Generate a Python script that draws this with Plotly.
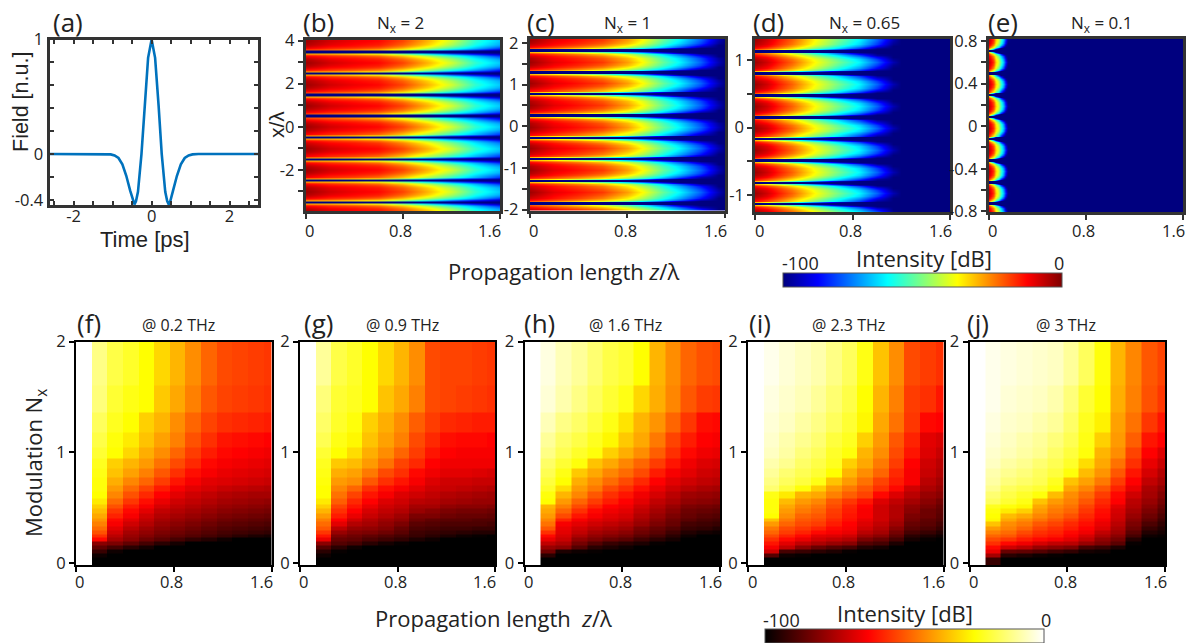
import plotly.graph_objects as go

W, H = 1187, 643
TICK_FONT = "Open Sans"

# ---------- panel (a) ----------
pulse_t = [-2.7,-1.2,-1.05,-.95,-.85,-.75,-.65,-.55,-.48,-.44,-.40,-.35,-.26,-.18,-.09,0,.09,.18,.26,.35,.40,.44,.48,.55,.65,.75,.85,.95,1.05,1.2,2.75]
pulse_v = [0,0,-.003,-.012,-.035,-.09,-.19,-.32,-.41,-.44,-.41,-.33,0,.42,.84,1,.84,.42,0,-.33,-.41,-.44,-.41,-.32,-.19,-.09,-.035,-.012,-.003,0,0]

# ---------- panels (b)-(e): one fringe read across its half width, by propagation length (dB) ----------
lobe_u = [0,.3,.5,.7,.8,.86,.9,1]
b_z = [0,.2,.4,.6,.8,1.0,1.2,1.4,1.6]
b_lobe = [
 [-3,-8,-11,-13,-19,-30,-42,-58,-68],
 [-5,-10,-13,-15,-22,-33,-46,-61,-71],
 [-8,-13,-15,-18,-26,-38,-51,-65,-76],
 [-13,-17,-20,-24,-33,-46,-59,-71,-84],
 [-20,-23,-27,-31,-42,-55,-68,-81,-92],
 [-30,-32,-35,-40,-52,-66,-80,-89,-96],
 [-99,-99,-99,-99,-99,-99,-99,-99,-99],
 [-100,-100,-100,-100,-100,-100,-100,-100,-100]]
c_z = [0,.2,.4,.6,.8,.93,1.1,1.23,1.4,1.55,1.6]
c_lobe = [
 [-3,-10,-14,-18,-28,-38,-53,-63,-78,-95,-100],
 [-5,-12,-16,-21,-31,-41,-56,-66,-81,-97,-100],
 [-8,-14,-19,-25,-36,-46,-60,-71,-86,-100,-100],
 [-13,-19,-25,-32,-43,-53,-67,-79,-95,-100,-100],
 [-20,-26,-33,-41,-54,-64,-80,-93,-100,-100,-100],
 [-30,-36,-44,-53,-67,-78,-93,-100,-100,-100,-100],
 [-99,-99,-99,-99,-99,-99,-100,-100,-100,-100,-100],
 [-100,-100,-100,-100,-100,-100,-100,-100,-100,-100,-100]]
d_z = [0,.1,.2,.3,.4,.5,.6,.7,.85,1.0,1.13,1.2,1.6]
d_lobe = [
 [-3,-8,-15,-22,-30,-38,-45,-52,-63,-78,-95,-100,-100],
 [-5,-10,-17,-24,-32,-40,-47,-55,-66,-82,-98,-100,-100],
 [-8,-13,-20,-28,-36,-44,-52,-60,-72,-88,-100,-100,-100],
 [-13,-19,-26,-34,-42,-51,-59,-67,-81,-97,-100,-100,-100],
 [-20,-26,-34,-43,-52,-61,-69,-79,-94,-100,-100,-100,-100],
 [-30,-37,-46,-55,-65,-75,-85,-95,-100,-100,-100,-100,-100],
 [-99,-99,-99,-99,-99,-99,-100,-100,-100,-100,-100,-100,-100],
 [-100,-100,-100,-100,-100,-100,-100,-100,-100,-100,-100,-100,-100]]
e_z = [0,.02,.04,.06,.08,.1,.12,.14,.16,.18,1.6]
e_lobe = [
 [-5,-10,-18,-32,-42,-55,-70,-85,-98,-100,-100],
 [-7,-12,-21,-35,-45,-58,-74,-90,-100,-100,-100],
 [-10,-16,-27,-40,-52,-66,-82,-97,-100,-100,-100],
 [-15,-25,-38,-51,-65,-81,-97,-100,-100,-100,-100],
 [-22,-36,-51,-69,-88,-100,-100,-100,-100,-100,-100],
 [-30,-50,-72,-95,-100,-100,-100,-100,-100,-100,-100],
 [-99,-99,-100,-100,-100,-100,-100,-100,-100,-100,-100],
 [-100,-100,-100,-100,-100,-100,-100,-100,-100,-100,-100]]
b_dips = [4.5,3.47,2.49,1.47,.51,-.49,-1.51,-2.48,-3.5,-4.5]
c_dips = [2.34,1.82,1.29,.78,.26,-.28,-.78,-1.31,-1.85,-2.37]
d_dips = [1.445,1.125,.806,.472,.152,-.167,-.487,-.816,-1.125,-1.445]
e_dips = [.915,.71,.497,.294,.09,-.119,-.322,-.525,-.722,-.925]

# ---------- panels (f)-(j): level above -100 dB ----------
cell_x = [0,.128,.256,.384,.512,.64,.768,.896,1.024,1.152,1.28,1.408,1.536,1.6]
cell_y = [2.0,1.6,1.36,1.18,1.04,.94,.85,.77,.70,.64,.58,.53,.49,.45,.40,.37,.33,.29,.26,.23,.195,.16,.12,.08,.045,-.02]
f_cells = [
 [100,88,82,79,75,69,64,58,52,48,47,46,45],
 [100,87,80,77,75,67,62,56,50,47,46,45,44],
 [100,84,78,75,68,64,58,52,47,44,43,42,41],
 [100,82,76,72,66,61,56,49,44,40,39,38,37],
 [100,80,75,69,63,58,52,46,41,38,37,36,35],
 [100,78,68,64,60,54,48,43,38,36,35,34,33],
 [100,77,66,61,56,50,44,39,36,34,33,32,31],
 [100,76,63,57,52,46,40,36,33,32,31,30,29],
 [100,76,60,53,47,41,36,33,31,29,28,27,26],
 [100,75,57,49,43,37,33,30,28,26,25,24,24],
 [100,72,53,45,39,34,30,28,26,24,23,22,21],
 [100,68,49,41,36,31,28,26,24,22,21,20,19],
 [100,65,45,38,33,28,26,24,22,20,19,18,17],
 [100,62,42,36,30,26,24,22,20,18,17,16,15],
 [100,59,38,33,28,24,22,20,18,16,15,14,13],
 [100,56,36,30,26,22,20,18,16,14,13,12,11],
 [100,53,33,27,23,20,18,16,14,12,11,10,9],
 [100,49,30,24,21,18,16,14,12,10,9,8,7],
 [100,44,27,22,19,16,14,12,10,8,6,4,3],
 [100,38,24,20,16,13,10,7,5,2,0,0,0],
 [100,20,18,14,10,6,3,0,0,0,0,0,0],
 [100,14,10,6,3,0,0,0,0,0,0,0,0],
 [100,8,2,0,0,0,0,0,0,0,0,0,0],
 [100,2,0,0,0,0,0,0,0,0,0,0,0],
 [100,0,0,0,0,0,0,0,0,0,0,0,0]]
g_cells = [
 [100,90,82,79,75,69,64,58,48,47,47,46,45],
 [100,87,80,78,75,66,62,56,48,47,46,45,44],
 [100,85,79,76,68,63,58,51,46,43,42,41,41],
 [100,83,77,74,66,61,56,48,43,39,38,38,37],
 [100,80,75,70,63,58,52,46,40,37,36,36,36],
 [100,78,67,65,60,54,47,43,37,35,35,35,35],
 [100,77,63,61,55,48,44,38,35,33,33,32,31],
 [100,76,60,58,50,44,40,36,32,30,30,29,29],
 [100,75,57,52,44,39,36,33,30,29,28,27,26],
 [100,75,54,47,40,36,32,30,28,26,25,24,23],
 [100,72,51,43,37,32,30,27,26,24,23,22,22],
 [100,68,47,40,34,30,28,24,24,21,20,20,19],
 [100,64,44,37,31,28,26,22,20,18,17,17,16],
 [100,60,41,34,29,26,23,18,18,16,15,15,14],
 [100,56,37,30,26,23,21,16,14,13,13,12,12],
 [100,53,33,26,24,21,18,13,12,11,11,11,10],
 [100,50,27,22,21,19,15,11,10,9,9,8,8],
 [100,45,22,19,18,16,13,9,8,7,6,5,5],
 [100,40,18,16,14,12,10,8,6,4,2,1,0],
 [100,34,15,14,11,9,7,4,2,0,0,0,0],
 [100,20,12,10,6,3,1,0,0,0,0,0,0],
 [100,12,6,2,0,0,0,0,0,0,0,0,0],
 [100,6,1,0,0,0,0,0,0,0,0,0,0],
 [100,2,0,0,0,0,0,0,0,0,0,0,0],
 [100,0,0,0,0,0,0,0,0,0,0,0,0]]
h_cells = [
 [100,97,93,90,86,82,80,75,64,58,52,49,48],
 [100,96,92,88,84,80,77,69,63,57,50,46,45],
 [100,93,88,85,81,77,71,64,59,52,45,39,38],
 [100,90,85,82,78,74,67,62,55,47,41,37,36],
 [100,88,83,79,76,68,63,58,51,44,38,35,34],
 [100,85,80,76,66,62,57,52,46,40,35,32,31],
 [100,83,77,67,62,57,53,48,41,36,33,30,29],
 [100,81,75,63,58,53,48,43,37,33,30,28,27],
 [100,79,70,60,55,48,44,39,34,30,27,25,24],
 [100,76,64,57,50,44,40,35,31,27,23,22,21],
 [100,75,60,52,46,41,37,33,28,25,21,20,19],
 [100,64,56,48,42,37,35,30,26,22,18,17,16],
 [100,62,52,44,38,35,33,28,24,20,16,15,14],
 [100,60,48,40,36,33,31,26,22,18,15,13,12],
 [100,57,42,36,33,31,29,24,20,16,13,11,10],
 [100,54,36,33,30,28,26,22,18,15,10,9,8],
 [100,50,34,30,27,25,23,18,15,12,8,7,5],
 [100,44,33,28,24,22,20,16,13,9,5,3,2],
 [100,38,31,25,21,19,17,13,10,6,2,0,0],
 [100,34,29,21,18,15,13,9,6,3,0,0,0],
 [100,28,25,17,12,8,6,4,1,0,0,0,0],
 [100,22,20,12,6,4,2,0,0,0,0,0,0],
 [100,16,4,2,1,0,0,0,0,0,0,0,0],
 [100,6,0,0,0,0,0,0,0,0,0,0,0],
 [100,0,0,0,0,0,0,0,0,0,0,0,0]]
i_cells = [
 [100,98,96,94,92,88,84,77,66,58,48,46,44],
 [100,97,95,93,90,86,82,75,64,56,46,44,40],
 [100,96,94,91,88,84,80,74,62,54,45,38,37],
 [100,95,92,89,86,81,78,68,60,50,42,33,31],
 [100,94,91,87,84,79,76,64,58,48,40,32,29],
 [100,92,89,85,82,78,68,62,55,46,37,30,27],
 [100,90,86,83,80,75,64,58,52,43,36,29,26],
 [100,88,84,81,77,66,60,54,47,41,36,27,24],
 [100,86,81,76,68,60,55,50,44,38,30,25,22],
 [100,77,72,64,62,56,51,47,38,32,27,22,20],
 [100,76,65,60,57,50,45,40,32,28,24,20,17],
 [100,76,62,57,54,48,42,37,30,26,21,18,15],
 [100,76,60,55,52,46,41,36,30,26,20,16,14],
 [100,75,58,52,50,45,40,36,30,26,18,16,13],
 [100,66,55,50,48,43,39,34,30,25,17,14,12],
 [100,60,52,48,46,41,37,32,28,23,15,13,10],
 [100,55,48,45,42,38,36,30,26,20,13,11,8],
 [100,52,46,42,38,36,34,27,24,17,10,8,5],
 [100,48,42,38,33,32,30,23,20,14,6,4,2],
 [100,44,38,34,30,28,26,18,15,10,3,1,0],
 [100,40,33,28,25,22,20,12,10,4,0,0,0],
 [100,36,28,20,15,12,10,5,3,0,0,0,0],
 [100,30,10,8,6,4,1,0,0,0,0,0,0],
 [100,12,2,1,0,0,0,0,0,0,0,0,0],
 [100,0,0,0,0,0,0,0,0,0,0,0,0]]
j_cells = [
 [100,98,97,96,95,94,90,84,76,64,57,50,47],
 [100,98,96,95,94,92,87,80,75,63,56,49,45],
 [100,97,95,94,92,90,85,78,73,61,54,45,40],
 [100,96,94,92,90,87,83,77,68,60,51,40,37],
 [100,95,93,91,89,85,81,76,64,58,47,37,32],
 [100,94,91,89,86,83,79,70,62,54,44,34,29],
 [100,92,89,87,84,81,76,65,59,50,40,31,26],
 [100,91,87,85,83,78,66,61,55,46,37,28,24],
 [100,89,84,82,80,76,62,57,50,42,34,25,21],
 [100,86,82,79,76,65,58,53,46,38,30,24,19],
 [100,84,80,77,66,60,56,50,43,37,27,22,17],
 [100,78,76,74,62,57,54,47,41,33,26,20,15],
 [100,76,72,68,60,55,52,45,39,31,24,18,13],
 [100,75,65,62,57,53,49,43,38,30,22,16,11],
 [100,74,62,58,54,50,46,41,36,29,20,14,9],
 [100,66,58,55,50,47,43,39,34,27,18,11,7],
 [100,60,56,52,47,44,41,37,32,25,16,8,5],
 [100,56,53,48,44,42,38,35,28,23,13,5,3],
 [100,52,50,45,42,40,36,31,25,20,10,2,1],
 [100,48,45,41,38,36,33,28,21,17,5,0,0],
 [100,44,38,35,31,28,27,22,18,13,1,0,0],
 [100,38,30,27,22,20,18,10,8,4,0,0,0],
 [100,34,15,14,12,9,7,3,2,0,0,0,0],
 [100,24,6,4,2,1,0,0,0,0,0,0,0],
 [100,8,0,0,0,0,0,0,0,0,0,0,0]]

# x tick labels of panels (b)-(j) and the sideways nudge they carry in the figure
z_ticks = [0, .8, 1.6]
z_tick_text = ["0", "0.8", "1.6"]
z_tick_nudge = [4, -2, -10]

JET = [[0,"#00007f"],[.125,"#0000ff"],[.375,"#00ffff"],[.625,"#ffff00"],[.875,"#ff0000"],[1,"#7f0000"]]
HOT = [[0,"#000000"],[.37,"#ff0000"],[.75,"#ffff00"],[1,"#ffffff"]]

fig = go.Figure()
layout = {}
notes = []

def dom(x0, x1, y0, y1):
    return [x0 / W, x1 / W], [1 - y1 / H, 1 - y0 / H]

def add_axes(n, box, xr, yr, xv, xt, yv, yt, color, lw, ticks="outside", mirror=True, tl=5, standoff=0, xlabels=True):
    dx, dy = dom(*box)
    font = dict(family=TICK_FONT, size=16.5, color="#222")
    layout[f"xaxis{n}"] = dict(domain=dx, range=xr, anchor=f"y{n}", tickmode="array", tickvals=xv, ticktext=xt,
                               ticks=ticks, ticklen=tl, tickwidth=2, tickcolor=color, showline=True, linecolor=color,
                               linewidth=lw, mirror=mirror, showgrid=False, zeroline=False, tickfont=font, tickangle=0,
                               ticklabelstandoff=standoff, showticklabels=xlabels)
    layout[f"yaxis{n}"] = dict(domain=dy, range=yr, anchor=f"x{n}", tickmode="array", tickvals=yv, ticktext=yt,
                               ticks=ticks, ticklen=tl, tickwidth=2, tickcolor=color, showline=True, linecolor=color,
                               linewidth=lw, mirror=mirror, showgrid=False, zeroline=False, tickfont=font,
                               ticklabeloverflow="allow")

def z_labels(n, py):
    for v, t, s in zip(z_ticks, z_tick_text, z_tick_nudge):
        notes.append(dict(x=v, xref=f"x{n}", xshift=s, y=1 - py / H, yref="paper", text=t, showarrow=False,
                          xanchor="center", yanchor="middle", font=dict(family=TICK_FONT, size=16.5, color="#222")))

def fringes(dips, table):
    ys, zs = [], []
    for top, bottom in zip(dips[:-1], dips[1:]):
        mid, half = (top + bottom) / 2, (top - bottom) / 2
        for u, row in zip(lobe_u[::-1], table[::-1]):
            ys.append(mid - u * half); zs.append(row)
        for u, row in zip(lobe_u[1:], table[1:]):
            ys.append(mid + u * half); zs.append(row)
    order = sorted(range(len(ys)), key=lambda i: ys[i])
    return [ys[i] for i in order], [zs[i] for i in order]

# panel (a)
fig.add_trace(go.Scatter(x=pulse_t, y=pulse_v, mode="lines", line=dict(color="#0072BD", width=2.6), xaxis="x", yaxis="y", showlegend=False))
add_axes("", (49.5, 258, 39.5, 205), [-2.62, 2.73], [-.445, 1.0],
         [-2.5,-2,-1.5,-1,-.5,0,.5,1,1.5,2,2.5], ["", "-2", "", "", "", "0", "", "", "", "2", ""],
         [-.4,-.2,0,.2,.4,.6,.8,1], ["-0.4", "", "0", "", "", "", "", "1"], "#333", 3, ticks="inside", mirror="ticks", tl=4, standoff=-6)

# panels (b)-(e)
top_panels = [
 (2, (305.5, 500, 39.5, 211), b_z, b_lobe, b_dips, [-3.91, 4.05], [-3,-2,-1,0,1,2,3,4], ["", "-2", "", "0", "", "2", "", "4"]),
 (3, (529.5, 725, 39, 210.5), c_z, c_lobe, c_dips, [-2.024, 2.096], [-2,-1.5,-1,-.5,0,.5,1,1.5,2], ["-2", "", "-1", "", "0", "", "1", "", "2"]),
 (4, (755, 950, 39, 212), d_z, d_lobe, d_dips, [-1.248, 1.307], [-1,-.5,0,.5,1], ["-1", "", "0", "", "1"]),
 (5, (988.5, 1183, 39, 212), e_z, e_lobe, e_dips, [-.806, .819], [-.8,-.6,-.4,-.2,0,.2,.4,.6,.8], ["-0.8", "", "-0.4", "", "0", "", "0.4", "", "0.8"]),
]
for n, box, zs, table, dips, yr, yv, yt in top_panels:
    ys, rows = fringes(dips, table)
    fig.add_trace(go.Heatmap(x=zs, y=ys, z=rows, zmin=-100, zmax=0, colorscale=JET, zsmooth="best",
                             xaxis=f"x{n}", yaxis=f"y{n}", hoverinfo="skip",
                             showscale=(n == 5),
                             colorbar=dict(orientation="h", x=782.5/W, xanchor="left", y=1-272.7/H, yanchor="top",
                                           lenmode="pixels", len=279, thicknessmode="pixels", thickness=14,
                                           xpad=0, ypad=0, outlinecolor="#555", outlinewidth=1, showticklabels=False, ticks="")))
    add_axes(n, box, [0, 1.6], yr, z_ticks, z_tick_text, yv, yt, "#333", 2.5, tl=5, xlabels=False)
    z_labels(n, 230)

# panels (f)-(j)
bottom_panels = [
 (6, 76, 271.5, f_cells), (7, 300, 495, g_cells), (8, 524.5, 720, h_cells), (9, 748, 943.5, i_cells), (10, 969.5, 1165, j_cells)]
for n, x0, x1, cells in bottom_panels:
    z = [[v - 100 for v in row] for row in cells[::-1]]
    fig.add_trace(go.Heatmap(x=cell_x, y=cell_y[::-1], z=z, zmin=-100, zmax=0, colorscale=HOT,
                             xaxis=f"x{n}", yaxis=f"y{n}", hoverinfo="skip",
                             showscale=(n == 10),
                             colorbar=dict(orientation="h", x=765/W, xanchor="left", y=1-629/H, yanchor="top",
                                           lenmode="pixels", len=279, thicknessmode="pixels", thickness=14,
                                           xpad=0, ypad=0, outlinecolor="#555", outlinewidth=1, showticklabels=False, ticks="")))
    add_axes(n, (x0, x1, 341.5, 565), [0, 1.6], [-.02, 2.0], z_ticks, z_tick_text, [0, 1, 2], ["0", "1", "2"], "#000", 2, tl=5, xlabels=False)
    z_labels(n, 581.5)

# text
def note(px, py, text, size, family="Open Sans", angle=0, color="#222"):
    notes.append(dict(x=px / W, y=1 - py / H, xref="paper", yref="paper", text=text, showarrow=False,
                      xanchor="center", yanchor="middle", textangle=angle, font=dict(family=family, size=size, color=color)))

for lab, px, py in [("(a)",68,22),("(b)",318,22),("(c)",541,22),("(d)",768,22),("(e)",1003,22),
                    ("(f)",89,323),("(g)",318,323),("(h)",539,323),("(i)",760,323),("(j)",978,323)]:
    note(px, py, lab, 26)
for txt, px in [("N<sub>x</sub> = 2",400),("N<sub>x</sub> = 1",627),("N<sub>x</sub> = 0.65",864),("N<sub>x</sub> = 0.1",1102)]:
    note(px, 23, txt, 17)
for txt, px in [("@ 0.2 THz",178),("@ 0.9 THz",402),("@ 1.6 THz",625),("@ 2.3 THz",848),("@ 3 THz",1066)]:
    note(px, 325, txt, 16)
note(563, 271, "Propagation length <i>z</i>/λ", 22)
note(493, 618, "Propagation length  <i>z</i>/λ", 22)
note(924, 258, "Intensity [dB]", 22)
note(905, 613, "Intensity [dB]", 22)
note(800, 263, "-100", 18); note(1059, 263, "0", 18)
note(781, 620, "-100", 18); note(1046, 620, "0", 18)
note(35, 463, "Modulation N<sub>x</sub>", 22, angle=-90)
note(21, 102, "Field [n.u.]", 21.5, family="Liberation Sans", angle=-90)
note(145, 240, "Time [ps]", 22, family="Liberation Sans")
note(276, 125, "x/λ", 21, family="Liberation Sans", angle=-90)

fig.update_layout(width=W, height=H, margin=dict(l=0, r=0, t=0, b=0, autoexpand=False), paper_bgcolor="white",
                  plot_bgcolor="white", annotations=notes, showlegend=False, **layout)
fig.write_html("out.html", config={"displayModeBar": False}, post_script="document.body.style.margin='0';")
